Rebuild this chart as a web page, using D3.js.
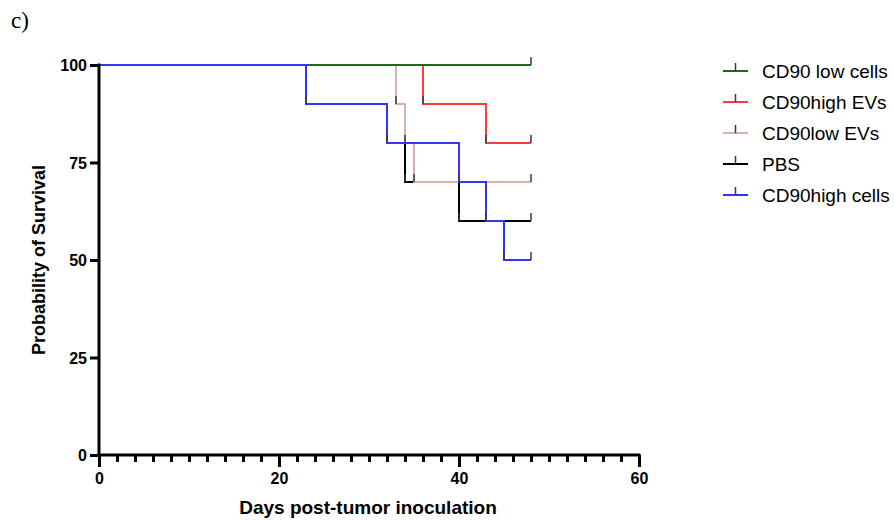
<!DOCTYPE html>
<html>
<head>
<meta charset="utf-8">
<script src="https://cdn.jsdelivr.net/npm/d3@7"></script>
<style>
  body { margin: 0; background: #fff; }
  svg { display: block; }
</style>
</head>
<body>
<svg id="chart" width="894" height="521"></svg>
<script>
// survival data
const groups = ['CD90 low cells', 'CD90high EVs', 'CD90low EVs', 'PBS', 'CD90high cells'];
const colors = ['#1c6b1c', '#ff3c3c', '#d7b2ac', '#000000', '#3434f4'];
const eventDays = [[], [36, 43], [33, 34, 35], [33, 34, 40], [23, 32, 40, 43, 45]];
const survival = [[100], [100, 90, 80], [100, 90, 80, 70], [100, 90, 70, 60], [100, 90, 80, 70, 60, 50]];
const lastDay = 48;
const xTicks = [0, 20, 40, 60];
const yTicks = [0, 25, 50, 75, 100];
const drawOrder = [3, 2, 1, 0, 4];

const svg = d3.select('#chart');
const plotLeft = 99, plotRight = 639, plotTop = 65, plotBottom = 455;
const sans = 'Liberation Sans, Arial, sans-serif';

const x = d3.scaleLinear().domain([0, 60]).range([plotLeft, plotRight]);
const y = d3.scaleLinear().domain([0, 100]).range([plotBottom, plotTop]);

svg.append('text')
  .attr('x', 11).attr('y', 28)
  .style('font-family', 'Liberation Serif, Times New Roman, serif')
  .style('font-size', '23px')
  .text('c)');

// curves
const line = d3.line().x(d => x(d[0])).y(d => y(d[1])).curve(d3.curveStepAfter);

drawOrder.forEach(i => {
  const pts = [[0, survival[i][0]]];
  eventDays[i].forEach((d, k) => pts.push([d, survival[i][k + 1]]));
  pts.push([lastDay, survival[i][survival[i].length - 1]]);
  svg.append('path')
    .datum(pts)
    .attr('fill', 'none')
    .attr('stroke', colors[i])
    .attr('stroke-width', 2)
    .attr('d', line);
  // censor ticks
  const marks = eventDays[i].map((d, k) => [d, survival[i][k + 1]]);
  marks.push([lastDay, survival[i][survival[i].length - 1]]);
  svg.append('g').selectAll('line')
    .data(marks)
    .enter()
    .append('line')
    .attr('x1', d => x(d[0])).attr('x2', d => x(d[0]))
    .attr('y1', d => y(d[1])).attr('y2', d => y(d[1]) - 8)
    .attr('stroke', '#3a3a3a')
    .attr('stroke-width', 1.5);
});

// y axis
const yAxis = svg.append('g')
  .attr('transform', `translate(${plotLeft}, 0)`)
  .call(d3.axisLeft(y).tickValues(yTicks).tickSize(9).tickPadding(3).tickSizeOuter(0));
yAxis.select('.domain').attr('stroke-width', 3).attr('d', `M0,${plotTop - 1.5}V${plotBottom + 1.5}`);
yAxis.selectAll('.tick line').attr('stroke-width', 3);
yAxis.selectAll('text')
  .attr('dy', '0.36em')
  .style('font-family', sans)
  .style('font-weight', 'bold')
  .style('font-size', '16px')
  .style('fill', '#000');

// x axis minor ticks
svg.append('g')
  .attr('transform', `translate(0, ${plotBottom})`)
  .call(d3.axisBottom(x).tickValues(d3.range(0, 61, 2)).tickSize(7).tickFormat(''))
  .call(g => g.select('.domain').remove())
  .selectAll('.tick line').attr('stroke-width', 3);

const xAxis = svg.append('g')
  .attr('transform', `translate(0, ${plotBottom})`)
  .call(d3.axisBottom(x).tickValues(xTicks).tickSize(12).tickPadding(6).tickSizeOuter(0));
xAxis.select('.domain').attr('stroke-width', 3).attr('d', `M${plotLeft - 1.5},0H${plotRight + 1.5}`);
xAxis.selectAll('.tick line').attr('stroke-width', 3);
xAxis.selectAll('text')
  .style('font-family', sans)
  .style('font-weight', 'bold')
  .style('font-size', '16px')
  .style('fill', '#000');

// axis titles
svg.append('text')
  .attr('transform', `translate(45, ${(plotTop + plotBottom) / 2}) rotate(-90)`)
  .attr('text-anchor', 'middle')
  .style('font-family', sans)
  .style('font-weight', 'bold')
  .style('font-size', '18px')
  .text('Probability of Survival');

svg.append('text')
  .attr('x', (plotLeft + plotRight) / 2 - 1).attr('y', 514)
  .attr('text-anchor', 'middle')
  .style('font-family', sans)
  .style('font-weight', 'bold')
  .style('font-size', '19px')
  .text('Days post-tumor inoculation');

// legend
const legend = svg.append('g').attr('transform', 'translate(723, 71)');
const item = legend.selectAll('g')
  .data(groups)
  .enter()
  .append('g')
  .attr('transform', (d, i) => `translate(0, ${i * 31})`);
item.append('line')
  .attr('x1', 0).attr('x2', 25)
  .attr('stroke', (d, i) => colors[i])
  .attr('stroke-width', 2);
item.append('line')
  .attr('x1', 12.5).attr('x2', 12.5).attr('y1', 0).attr('y2', -8)
  .attr('stroke', '#3a3a3a').attr('stroke-width', 1.5);
item.append('text')
  .attr('x', 39).attr('y', 7)
  .style('font-family', sans)
  .style('font-size', '19px')
  .text(d => d);
</script>
</body>
</html>
